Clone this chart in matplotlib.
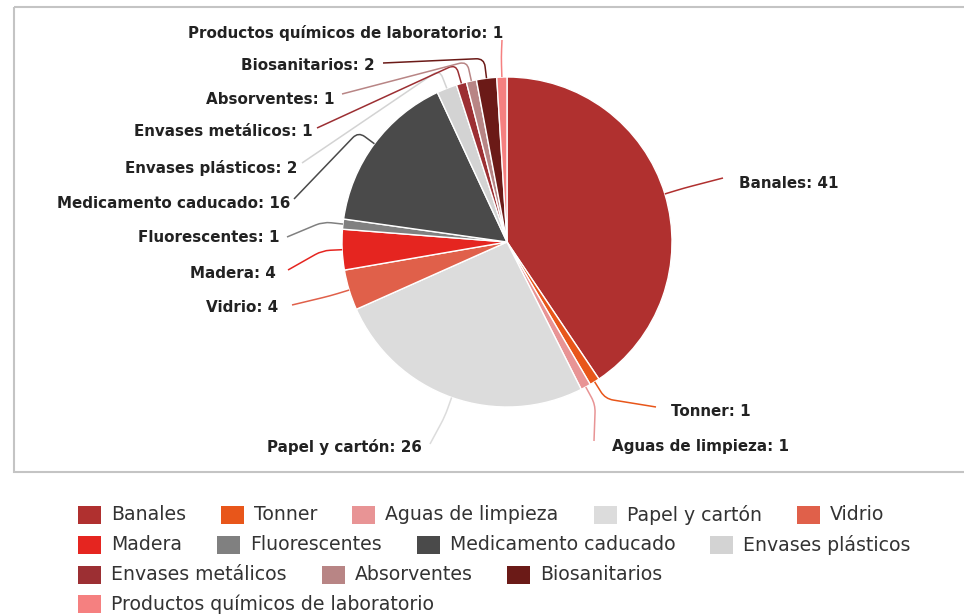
import numpy as np
import matplotlib
matplotlib.use("Agg")
import matplotlib.pyplot as plt
from matplotlib.patches import Rectangle, PathPatch
from matplotlib.path import Path

# data
categories = ['Banales', 'Tonner', 'Aguas de limpieza', 'Papel y cartón', 'Vidrio',
              'Madera', 'Fluorescentes', 'Medicamento caducado', 'Envases plásticos',
              'Envases metálicos', 'Absorventes', 'Biosanitarios',
              'Productos químicos de laboratorio']
values = [41, 1, 1, 26, 4, 4, 1, 16, 2, 1, 1, 2, 1]
colors = ['#B0302F', '#E8561A', '#E89495', '#DCDCDC', '#E0604A', '#E52520', '#808080',
          '#4A4A4A', '#D3D3D3', '#9C2F33', '#B88585', '#6B1A17', '#F58080']

# layout (pixel coords, y down)
cx, cy, R = 507, 242, 165
# label text anchor (x, y, ha) and connector end point
label_pos = [(739, 183, 'left'), (671, 411, 'left'), (612, 446, 'left'),
             (422, 447, 'right'), (278, 308, 'right'), (276, 273, 'right'),
             (279, 237, 'right'), (290, 203, 'right'), (297, 168, 'right'),
             (313, 132, 'right'), (335, 100, 'right'), (375, 65, 'right'),
             (503, 33, 'right')]
conn_end = [(723, 178), (656, 407), (594, 441), (430, 444), (292, 305), (288, 270),
            (287, 237), (294, 199), (302, 163), (317, 128), (342, 94), (383, 63),
            (502, 40)]
legend_rows = [[0, 1, 2, 3, 4], [5, 6, 7, 8], [9, 10, 11], [12]]
legend_y = [515, 545, 575, 604]

fig = plt.figure(figsize=(9.64, 6.14), dpi=100)
ax = fig.add_axes([0, 0, 1, 1])

ax.pie(values, colors=colors, center=(cx, cy), radius=R, startangle=-90,
       counterclock=True, wedgeprops=dict(edgecolor='white', linewidth=1))
ax.set_xlim(0, 964)
ax.set_ylim(614, 0)
ax.axis('off')

# frame
ax.add_patch(Rectangle((14, 7), 1000, 465, fill=False, edgecolor='#C4C4C4', lw=1.5))

# labels with connectors
cum = np.cumsum([0] + values)
total = cum[-1]
for i, name in enumerate(categories):
    phi = np.radians((cum[i] + cum[i + 1]) / 2 / total * 360)
    d = np.array([np.sin(phi), -np.cos(phi)])
    p0 = np.array([cx, cy]) + d * R
    pe = np.array([cx, cy]) + d * (R + 20)
    end = np.array(conn_end[i])
    # rounded corner at the elbow
    a = p0 + (pe - p0) * 0.6
    b = pe + (end - pe) * min(8 / np.linalg.norm(end - pe), 0.5)
    path = Path([p0, a, pe, b, end],
                [Path.MOVETO, Path.LINETO, Path.CURVE3, Path.CURVE3, Path.LINETO])
    ax.add_patch(PathPatch(path, fill=False, edgecolor=colors[i], lw=1.1))
    x, y, ha = label_pos[i]
    ax.text(x, y, f'{name}: {values[i]}', ha=ha, va='center', fontsize=10.9,
            fontweight='bold', color='#222222', family='DejaVu Sans')

# legend (flow layout)
fig.canvas.draw()
renderer = fig.canvas.get_renderer()
for row, y in zip(legend_rows, legend_y):
    x = 78
    for i in row:
        ax.add_patch(Rectangle((x, y - 9), 23, 18, facecolor=colors[i], edgecolor='none'))
        t = ax.text(x + 33, y, categories[i], ha='left', va='center', fontsize=13.6,
                    color='#333333', family='DejaVu Sans')
        bb = t.get_window_extent(renderer)
        x = x + 33 + bb.width + 35

fig.savefig('out.png', dpi=100)
